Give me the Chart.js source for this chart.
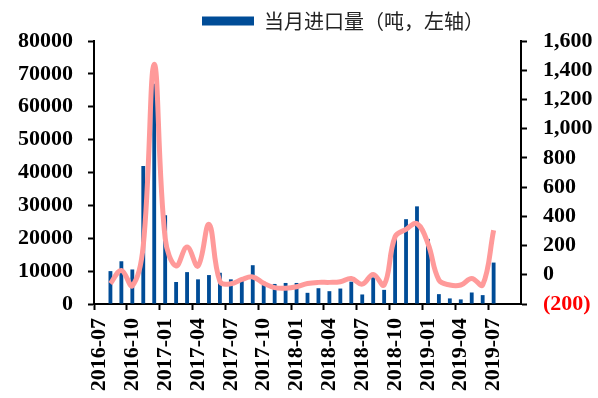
<!DOCTYPE html>
<html>
<head>
<meta charset="utf-8">
<script src="https://cdn.jsdelivr.net/npm/chart.js@4/dist/chart.umd.min.js"></script>
<style>
  html, body { margin: 0; padding: 0; background: #ffffff; overflow: hidden; }
  #wrap { width: 598px; height: 398px; }
</style>
</head>
<body>
<div id="wrap"><canvas id="chartImport" width="598" height="398"></canvas></div>
<script>
// Months on the category axis (2016-07 .. 2019-09)
const months = [
    '2016-07', '2016-08', '2016-09', '2016-10', '2016-11', '2016-12',
    '2017-01', '2017-02', '2017-03', '2017-04', '2017-05', '2017-06',
    '2017-07', '2017-08', '2017-09', '2017-10', '2017-11', '2017-12',
    '2018-01', '2018-02', '2018-03', '2018-04', '2018-05', '2018-06',
    '2018-07', '2018-08', '2018-09', '2018-10', '2018-11', '2018-12',
    '2019-01', '2019-02', '2019-03', '2019-04', '2019-05', '2019-06',
    '2019-07', '2019-08', '2019-09'
];

// Monthly imports, tonnes (left axis)
const monthlyImports = [
    null, 10000, 13000, 10500, 42000, 67000,
    27000, 6700, 9700, 7500, 8800, 9500,
    7500, 7100, 11800, 5800, 6100, 6400,
    6400, 3400, 4800, 3900, 4700, 6800,
    2900, 8100, 4300, 20000, 25800, 29700,
    19800, 3000, 1700, 1400, 3500, 2700,
    12600, null, null
];

// Line on the right axis
const rightSeries = [
    null, -60, 30, -75, 200, 1440,
    250, 60, 190, 60, 345, -45,
    -62, -32, -15, -58, -88, -92,
    -82, -60, -52, -52, -48, -25,
    -64, 2, -70, 260, 311, 350,
    214, -36, -70, -70, -25, -70,
    305, null, null
];

const tickFont = { family: "'Liberation Serif', 'Times New Roman', serif", size: 22, weight: 'bold' };

// Legend sits right of centre in the original
const legendShift = {
    id: 'legendShift',
    afterLayout(chart) {
        if (chart.legend) {
            chart.legend.left += 44;
            chart.legend.right += 44;
        }
    }
};

const ctx = document.getElementById('chartImport').getContext('2d');
new Chart(ctx, {
    type: 'bar',
    data: {
        labels: months,
        datasets: [
            {
                type: 'line',
                label: '右轴',
                data: rightSeries,
                yAxisID: 'y1',
                borderColor: '#ff9a9a',
                borderWidth: 5,
                pointRadius: 0,
                tension: 0.4,
                fill: false,
                order: 0
            },
            {
                type: 'bar',
                label: '当月进口量（吨，左轴）',
                data: monthlyImports,
                yAxisID: 'y',
                backgroundColor: '#004c97',
                barPercentage: 0.35,
                categoryPercentage: 1,
                order: 1
            }
        ]
    },
    options: {
        responsive: false,
        devicePixelRatio: 1,
        animation: false,
        layout: { padding: { left: 0, right: 0, top: 1, bottom: 0 } },
        plugins: {
            legend: {
                position: 'top',
                labels: {
                    filter: (item) => item.datasetIndex === 1,
                    boxWidth: 52,
                    boxHeight: 9,
                    color: '#222',
                    font: { family: "'Noto Sans CJK SC', sans-serif", size: 20 }
                }
            },
            tooltip: { enabled: false }
        },
        scales: {
            x: {
                offset: true,
                grid: {
                    offset: true,
                    drawOnChartArea: false,
                    tickLength: 6,
                    tickWidth: 2,
                    tickColor: (c) => (c.index % 3 === 0 ? '#000' : 'rgba(0,0,0,0)')
                },
                border: { color: '#000', width: 2 },
                ticks: {
                    autoSkip: false,
                    maxRotation: 90,
                    minRotation: 90,
                    padding: 8,
                    color: '#000',
                    font: { family: tickFont.family, size: 22, weight: 'bold' },
                    callback: function (val, i) { return i % 3 === 0 ? months[i] : ''; }
                },
                afterFit: (scale) => { scale.height = 94; }
            },
            y: {
                position: 'left',
                min: 0,
                max: 80000,
                grid: { drawOnChartArea: false, tickLength: 6, tickWidth: 2, tickColor: '#000' },
                border: { color: '#000', width: 2 },
                ticks: {
                    stepSize: 10000,
                    autoSkip: false,
                    padding: 15,
                    color: '#000',
                    font: tickFont,
                    callback: (v) => String(v)
                },
                afterFit: (scale) => { scale.width = 94; }
            },
            y1: {
                position: 'right',
                min: -200,
                max: 1600,
                grid: { drawOnChartArea: false, tickLength: 6, tickWidth: 2, tickColor: '#000' },
                border: { color: '#000', width: 2 },
                ticks: {
                    stepSize: 200,
                    autoSkip: false,
                    padding: 16,
                    color: (c) => (c.tick && c.tick.value < 0 ? '#ff0000' : '#000'),
                    font: tickFont,
                    callback: (v) => {
                        const s = Math.abs(v).toLocaleString('en-US');
                        return v < 0 ? '(' + s + ')' : s;
                    }
                },
                afterFit: (scale) => { scale.width = 77; }
            }
        }
    },
    plugins: [legendShift]
});
</script>
</body>
</html>
